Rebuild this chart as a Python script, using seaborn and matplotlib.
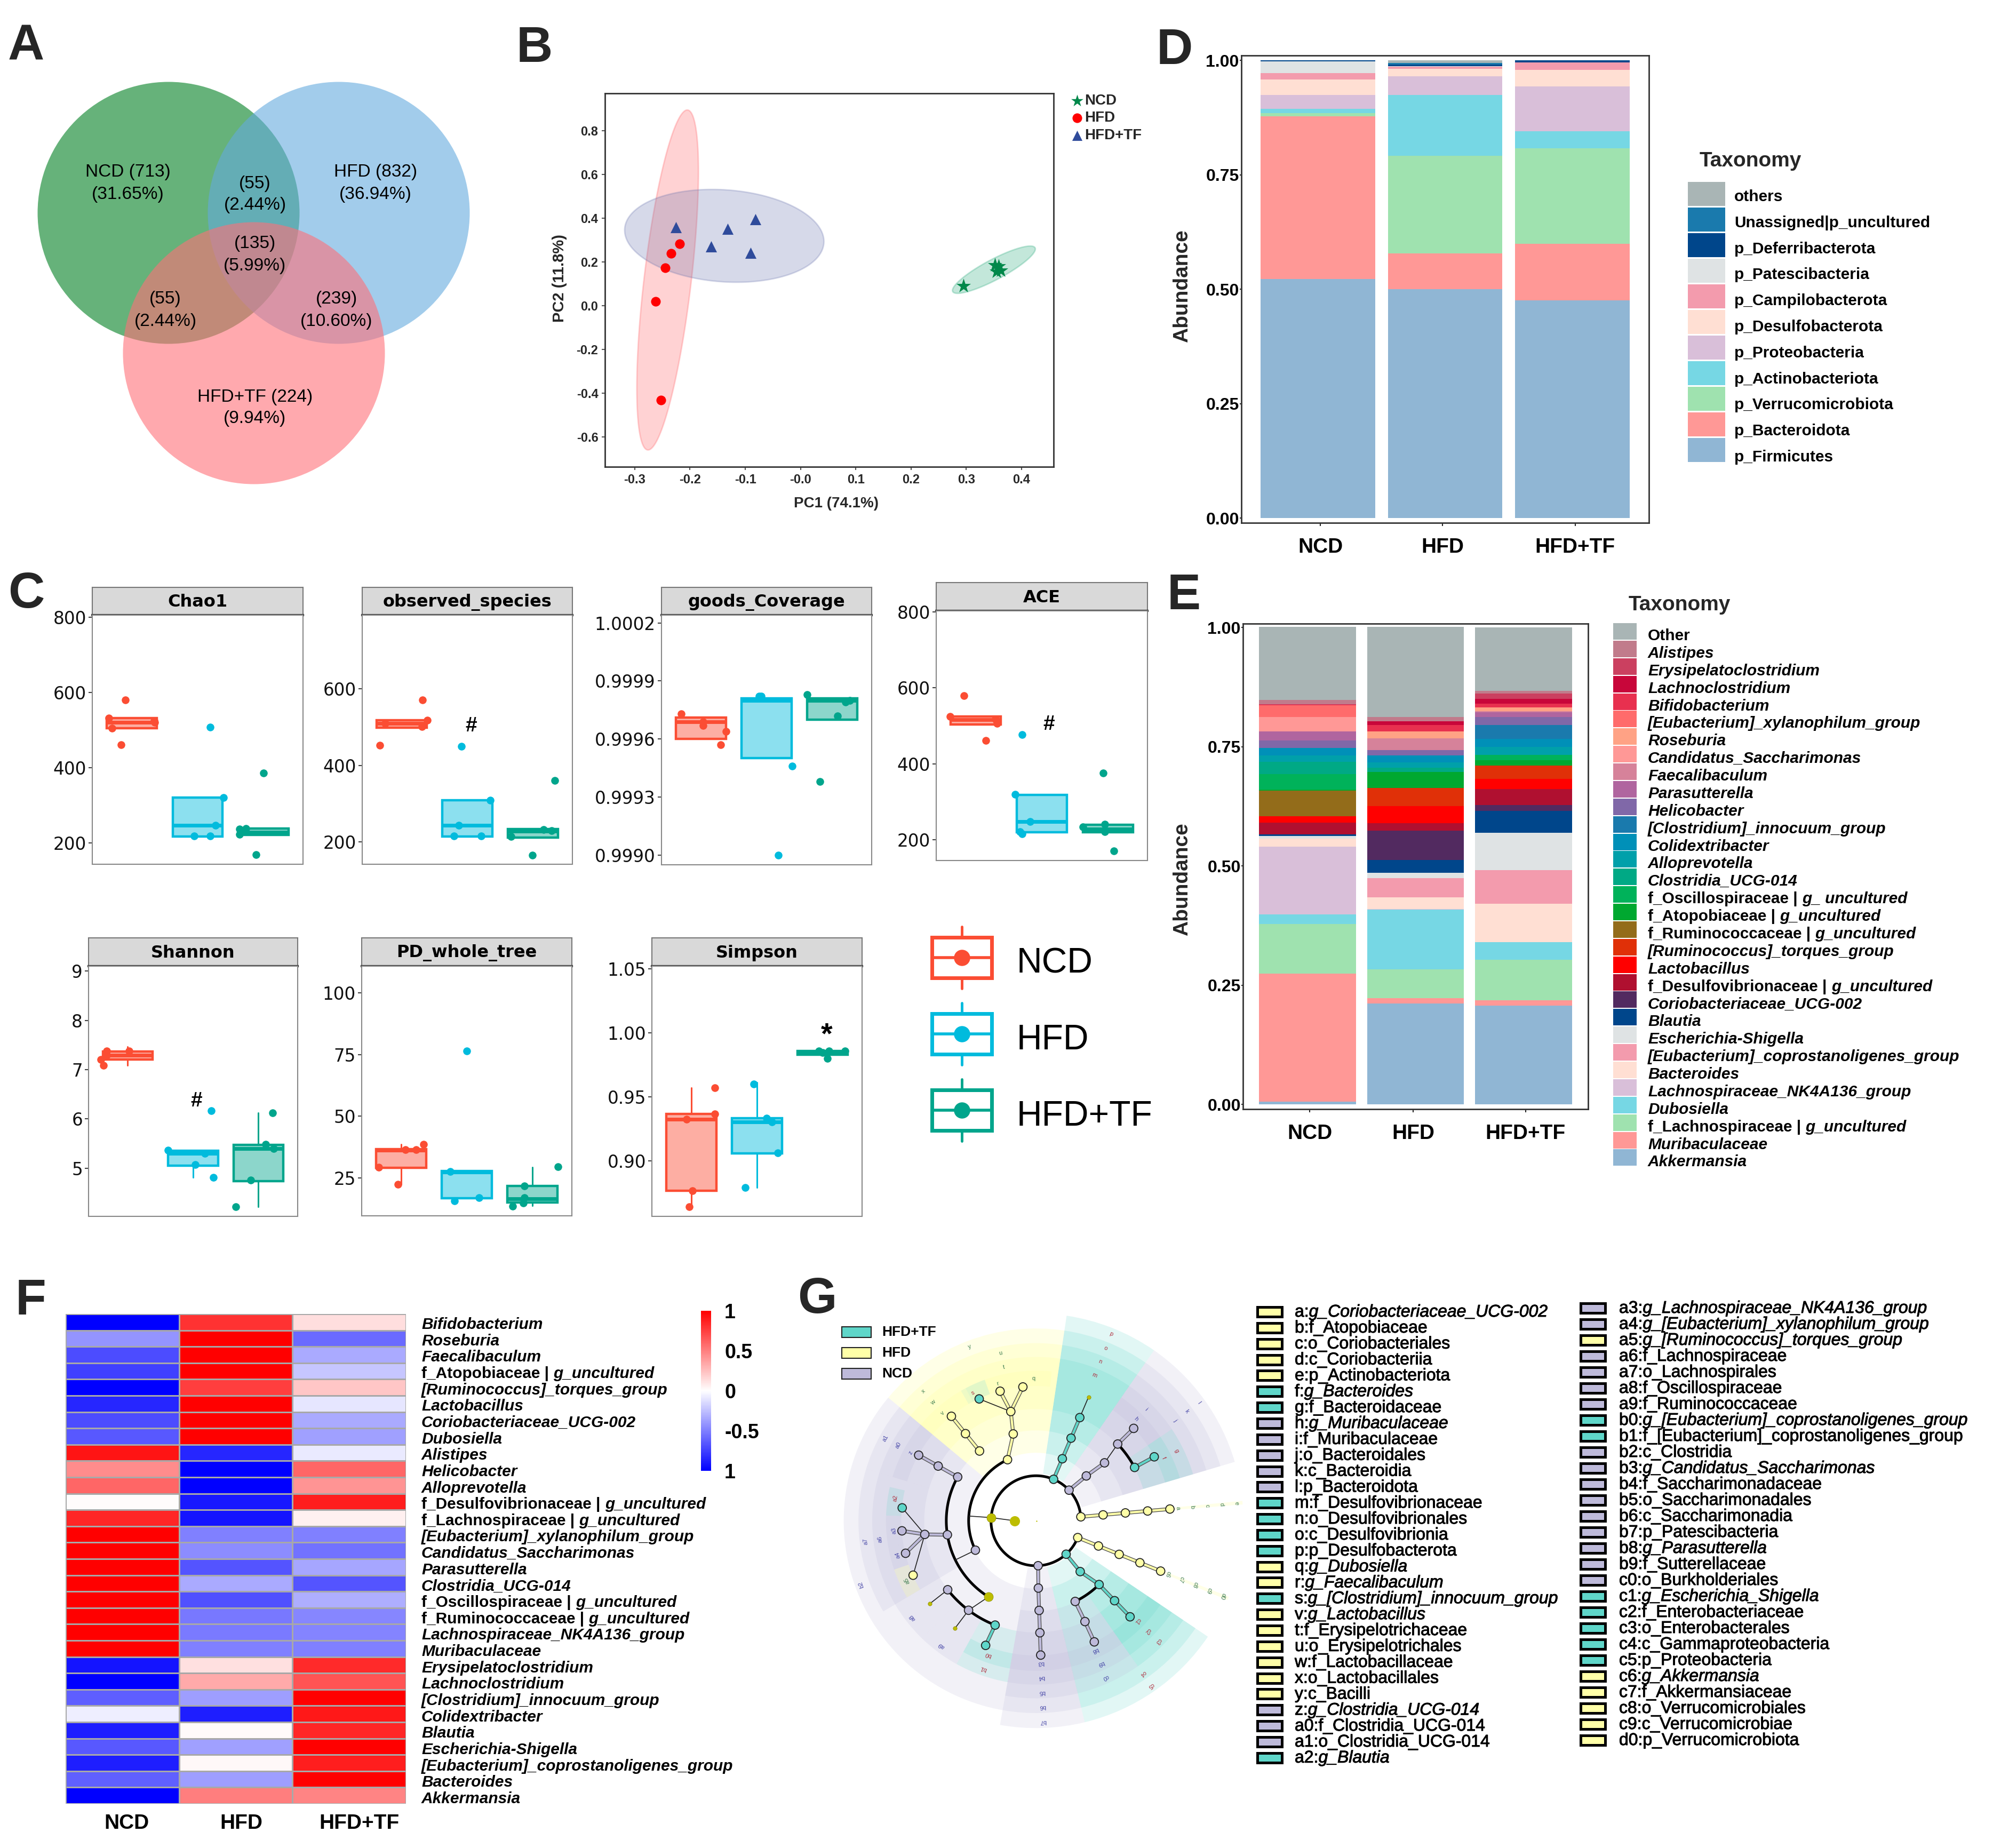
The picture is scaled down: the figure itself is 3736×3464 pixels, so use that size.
import numpy as np
import pandas as pd
import matplotlib
matplotlib.use('Agg')
import matplotlib.pyplot as plt
import matplotlib.patheffects as pe
from matplotlib.patches import Circle, Rectangle, Wedge
import seaborn as sns

sns.set_theme(style='white')
plt.rcParams['font.family'] = ['Liberation Sans', 'DejaVu Sans']

W, H = 3737, 3464
groups = ['NCD', 'HFD', 'HFD+TF']

# ---------- A venn
venn_texts = [('NCD (713)', '(31.65%)', 240, 323), ('HFD (832)', '(36.94%)', 704, 323),
              ('(55)', '(2.44%)', 478, 344), ('(135)', '(5.99%)', 478, 457),
              ('(55)', '(2.44%)', 310, 561), ('(239)', '(10.60%)', 631, 561),
              ('HFD+TF (224)', '(9.94%)', 478, 744)]
venn_circles = [(316, 399, '#008021'), (635, 399, '#64AADE'), (476, 662, '#FF7078')]

# ---------- B pcoa
pc1_ncd = [0.295, 0.352, 0.359, 0.355, 0.362]
pc2_ncd = [0.090, 0.187, 0.180, 0.157, 0.162]
pc1_hfd = [-0.219, -0.234, -0.245, -0.262, -0.253]
pc2_hfd = [0.283, 0.239, 0.174, 0.021, -0.432]
pc1_tf = [-0.226, -0.132, -0.082, -0.162, -0.090]
pc2_tf = [0.358, 0.353, 0.396, 0.272, 0.242]
# centre, major vector, minor vector
ell_ncd = [0.350, 0.165, 0.0717, 0.106, -0.022, 0.022]
ell_hfd = [-0.2405, 0.118, 0.0355, 0.778, 0.043, 0.0]
ell_tf = [-0.138, 0.320, 0.180, -0.013, -0.011, 0.212]

# ---------- C alpha diversity: q1, median, q3, whisker low, whisker high
chao1_box = [[505, 520, 531, 505, 531], [217, 247, 320, 217, 320], [221, 228, 238, 221, 238]]
chao1_y = [[579, 532, 505, 461, 525, 520], [507, 320, 247, 218, 218], [386, 236, 222, 238, 168]]
chao1_off = [[-.10, -.35, -.30, -.16, .34, .35], [.19, .39, .27, -.05, .19], [0, -.36, -.36, -.27, -.11]]
obs_box = [[499, 510, 518, 499, 518], [214, 244, 309, 214, 309], [212, 228, 234, 212, 234]]
obs_y = [[570, 518, 501, 453, 510], [450, 309, 244, 216, 216], [361, 233, 230, 214, 166]]
obs_off = [[.32, .39, .31, -.33, -.25], [-.09, .35, -.13, -.2, .21], [.33, .16, .28, -.33, -.01]]
goods_box = [[.99960, .99969, .99971, .99960, .99971], [.99950, .99980, .99981, .99950, .99981],
             [.99970, .99980, .99981, .99970, .99981]]
goods_y = [[.99973, .99967, .99964, .99957, .99969], [.99982, .99982, .99946, .99900],
           [.99983, .99980, .99979, .99972, .99938]]
goods_off = [[-.30, .03, .38, .30, .03], [-.11, -.08, .39, .18], [-.38, .27, .2, .08, -.19]]
ace_box = [[504, 516, 524, 504, 524], [219, 247, 318, 219, 318], [219, 228, 239, 219, 239]]
ace_y = [[579, 524, 517, 506, 461], [477, 319, 247, 221, 216], [375, 240, 234, 221, 170]]
ace_off = [[-.18, -.39, .3, .32, .15], [-.30, -.40, -.18, -.33, -.30], [-.07, -.05, -.38, -.05, .09]]
shannon_box = [[7.20, 7.29, 7.37, 7.09, 7.46], [5.05, 5.30, 5.35, 4.81, 5.35], [4.74, 5.40, 5.47, 4.21, 6.12]]
shannon_y = [[7.38, 7.29, 7.38, 7.20, 7.09], [6.16, 5.36, 5.30, 5.07, 4.81], [6.12, 5.48, 5.40, 4.76, 4.21]]
shannon_off = [[-.32, -.32, .02, -.41, -.37], [.28, -.38, .18, .03, .31], [.22, .11, .23, -.12, -.35]]
pd_box = [[29.2, 36.3, 36.6, 22.4, 38.6], [16.7, 27.3, 27.8, 16.7, 27.8], [15.1, 16.5, 21.8, 13.7, 29.4]]
pd_y = [[38.6, 36.5, 36.5, 29.4, 22.4], [76.5, 27.6, 17.0, 15.8], [29.6, 21.8, 16.9, 13.5, 14.9]]
pd_off = [[.34, .07, .23, -.34, -.05], [0, -.25, .19, -.19], [.39, -.12, -.12, -.3, -.14]]
simpson_box = [[.8769, .9327, .9367, .8643, .9571], [.9058, .9303, .9333, .8793, .9612],
               [.9830, .9847, .9860, .9830, .9860]]
simpson_y = [[.9571, .9367, .9327, .8769, .8643], [.9602, .9333, .9303, .9065, .8793],
             [.9860, .9857, .9857, .9800, .9847]]
simpson_off = [[.36, .36, -.07, .02, -.03], [-.05, .15, .23, .32, -.18], [.34, -.06, .1, .07, 0]]

# name, data, pixel box (left, strip top, panel top, right, bottom), ylim, yticks, labels, mark
alpha_panels = [
    ('Chao1', chao1_box, chao1_y, chao1_off, (173, 1101, 1153, 568, 1620), (143, 805),
     [200, 400, 600, 800], ['200', '400', '600', '800'], None),
    ('observed_species', obs_box, obs_y, obs_off, (679, 1101, 1153, 1073, 1620), (142, 792),
     [200, 400, 600], ['200', '400', '600'], ('#', 2.06, 503)),
    ('goods_Coverage', goods_box, goods_y, goods_off, (1240, 1101, 1153, 1634, 1621), (.99895, 1.00024),
     [.9990, .9993, .9996, .9999, 1.0002], ['0.9990', '0.9993', '0.9996', '0.9999', '1.0002'], None),
    ('ACE', ace_box, ace_y, ace_off, (1755, 1092, 1145, 2151, 1613), (145, 803),
     [200, 400, 600, 800], ['200', '400', '600', '800'], ('#', 2.11, 503)),
    ('Shannon', shannon_box, shannon_y, shannon_off, (166, 1758, 1811, 558, 2280), (4.02, 9.1),
     [5, 6, 7, 8, 9], ['5', '6', '7', '8', '9'], ('#', 2.05, 6.36)),
    ('PD_whole_tree', pd_box, pd_y, pd_off, (678, 1758, 1811, 1072, 2279), (9.65, 110.9),
     [25, 50, 75, 100], ['25', '50', '75', '100'], None),
    ('Simpson', simpson_box, simpson_y, simpson_off, (1222, 1758, 1811, 1616, 2280), (.8568, 1.052),
     [.90, .95, 1.00, 1.05], ['0.90', '0.95', '1.00', '1.05'], ('*', 3.06, .9976)),
]
alpha_colors = ['#FB4D33', '#00BBDD', '#00A58C']

# ---------- D phylum
phyla = ['p_Firmicutes', 'p_Bacteroidota', 'p_Verrucomicrobiota', 'p_Actinobacteriota', 'p_Proteobacteria',
         'p_Desulfobacterota', 'p_Campilobacterota', 'p_Patescibacteria', 'p_Deferribacterota',
         'Unassigned|p_uncultured', 'others']
phyla_colors = ['#90B6D4', '#FF9896', '#9FE2AF', '#76D7E4', '#D9BFD9', '#FFDFD3', '#F39BAD', '#DFE3E4',
                '#00468B', '#1A7AAD', '#A9B5B5']
phyla_ncd = [.523, .355, .007, .010, .030, .033, .015, .025, .002, 0, 0]
phyla_hfd = [.501, .078, .213, .133, .041, .016, .005, .001, .003, .004, .005]
phyla_tf = [.476, .124, .208, .037, .098, .037, .016, 0, .004, 0, 0]

# ---------- E genus
genera = ['Akkermansia', 'Muribaculaceae', 'f_Lachnospiraceae | g_uncultured', 'Dubosiella',
          'Lachnospiraceae_NK4A136_group', 'Bacteroides', '[Eubacterium]_coprostanoligenes_group',
          'Escherichia-Shigella', 'Blautia', 'Coriobacteriaceae_UCG-002', 'f_Desulfovibrionaceae | g_uncultured',
          'Lactobacillus', '[Ruminococcus]_torques_group', 'f_Ruminococcaceae | g_uncultured',
          'f_Atopobiaceae | g_uncultured', 'f_Oscillospiraceae | g_ uncultured', 'Clostridia_UCG-014',
          'Alloprevotella', 'Colidextribacter', '[Clostridium]_innocuum_group', 'Helicobacter', 'Parasutterella',
          'Faecalibaculum', 'Candidatus_Saccharimonas', 'Roseburia', '[Eubacterium]_xylanophilum_group',
          'Bifidobacterium', 'Lachnoclostridium', 'Erysipelatoclostridium', 'Alistipes', 'Other']
genera_colors = ['#90B6D4', '#FF9896', '#9FE2AF', '#76D7E4', '#D9BFD9', '#FFDFD3', '#F39BAD', '#DFE3E4', '#00468B',
                 '#522A60', '#B01030', '#FF0000', '#E03008', '#936C1A', '#00A830', '#00B25A', '#00A985', '#00A0AA',
                 '#0090B8', '#1A7AAD', '#8068A8', '#B0659F', '#D6829A', '#FF9896', '#FFA285', '#FF6B6B', '#E8304F',
                 '#C8063A', '#CB4060', '#C17B8B', '#A9B5B5']
genera_ncd = [.006, .268, .104, .020, .142, .017, 0, .006, .003, 0, .025, .013, 0, .054, .002, .033, .025, .014, .015,
              0, .016, .019, 0, .030, 0, .025, .001, 0, .001, .009, .153]
genera_hfd = [.212, .011, .060, .125, .002, .024, .040, .012, .026, .062, .016, .035, .038, 0, .034, 0, .009, .011,
              .015, 0, .011, 0, .024, 0, .015, 0, .014, .007, 0, .009, .189]
genera_tf = [.207, .011, .085, .037, 0, .081, .070, .078, .046, .013, .033, .022, .027, 0, .012, .011, 0, .017, .016,
             .030, .016, .010, .003, 0, .007, 0, .008, .010, .011, .006, .133]

# ---------- F heatmap
heat_rows = ['Bifidobacterium', 'Roseburia', 'Faecalibaculum', 'f_Atopobiaceae | g_uncultured',
             '[Ruminococcus]_torques_group', 'Lactobacillus', 'Coriobacteriaceae_UCG-002', 'Dubosiella', 'Alistipes',
             'Helicobacter', 'Alloprevotella', 'f_Desulfovibrionaceae | g_uncultured', 'f_Lachnospiraceae | g_uncultured',
             '[Eubacterium]_xylanophilum_group', 'Candidatus_Saccharimonas', 'Parasutterella', 'Clostridia_UCG-014',
             'f_Oscillospiraceae | g_uncultured', 'f_Ruminococcaceae | g_uncultured', 'Lachnospiraceae_NK4A136_group',
             'Muribaculaceae', 'Erysipelatoclostridium', 'Lachnoclostridium', '[Clostridium]_innocuum_group',
             'Colidextribacter', 'Blautia', 'Escherichia-Shigella', '[Eubacterium]_coprostanoligenes_group',
             'Bacteroides', 'Akkermansia']
heat_ncd = [-1, -.42, -.7, -.75, -1, -.85, -.7, -.65, .92, .45, .6, .01, .85, 1, 1, 1, 1, 1, 1, 1, 1,
            -.92, -1, -.63, -.07, -.88, -.65, -.88, -.62, -1]
heat_hfd = [.8, 1, 1, 1, .75, 1, 1, 1, -.85, -1, -1, -.9, -.92, -.5, -.45, -.67, -.33, -.68, -.53, -.52, -.5,
            .12, .33, -.38, -.88, .02, -.37, .03, -.38, .5]
heat_tf = [.13, -.58, -.33, -.22, .22, -.1, -.33, -.37, -.08, .6, .42, .88, .06, -.5, -.55, -.35, -.67, -.32, -.47,
           -.48, -.5, .83, .67, 1, .9, .85, 1, .88, 1, .48]

# ---------- G cladogram
clade_colors = {'N': '#BEBADA', 'H': '#FFFFA8', 'T': '#5FD6C9'}
clade_text = {'N': '#4848A8', 'H': '#3C7C50', 'T': '#B03040'}
clade_alpha = {'N': .2, 'H': .27, 'T': .18}
ring_in = {1: 155, 2: 222, 3: 295, 4: 365, 5: 440}
ring_out = {1: 677, 2: 628, 3: 580, 4: 535, 5: 490}
node_r = {1: 147, 2: 220, 3: 293, 4: 366, 5: 439}
label_r = {5: 465, 4: 512, 3: 560, 2: 608, 1: 657}
clade_wedges = [('T', 55.3, 81.5, 1), ('T', 55.3, 81.5, 2), ('T', 55.3, 81.5, 3), ('T', 55.3, 81.5, 4),
                ('N', 16.5, 55.3, 1), ('N', 16.5, 55.3, 2), ('N', 16.5, 55.3, 3), ('N', 34, 55.3, 4), ('N', 34, 55.3, 5),
                ('T', 16.5, 34, 4), ('T', 16.5, 34, 5),
                ('H', 81.5, 140.2, 2), ('H', 81.5, 118, 3), ('H', 81.5, 118, 4), ('H', 84, 98, 5), ('H', 98, 110, 5),
                ('T', 110, 120, 5), ('H', 118, 140.2, 3), ('H', 118, 140.2, 4), ('H', 120, 140.2, 5),
                ('N', 140.2, 260, 2), ('N', 140.2, 163, 3), ('N', 140.2, 163, 4), ('N', 140.2, 163, 5),
                ('N', 163, 210.7, 3), ('N', 163, 210.7, 4), ('T', 167, 178, 5), ('N', 178, 190, 5), ('N', 190, 199, 5),
                ('H', 199, 210.7, 5), ('N', 210.7, 226, 4), ('N', 226, 241, 4), ('T', 241, 260, 4), ('T', 241, 260, 5),
                ('N', 260, 283.6, 1), ('N', 260, 283.6, 2), ('N', 260, 283.6, 3), ('N', 260, 283.6, 4), ('N', 260, 283.6, 5),
                ('T', 283.6, 326, 1), ('T', 283.6, 326, 2), ('N', 283.6, 305, 3), ('N', 283.6, 305, 4), ('N', 283.6, 305, 5),
                ('T', 305, 326, 3), ('T', 305, 326, 4), ('T', 305, 326, 5),
                ('H', 4.5, 5.5, 1), ('H', 337.5, 338.5, 1)]
# group, chain of (angle, level)
clade_bands = [('H', [(5, 1), (5, 2), (5, 3), (5, 4), (5, 5)]),
               ('H', [(338, 1), (338, 2), (338, 3), (338, 4), (338, 5)]),
               ('T', [(67, 1), (67, 2), (67, 3), (67, 4)]),
               ('N', [(42.8, 1), (41.7, 2), (40.2, 3)]), ('N', [(43.2, 4), (43.4, 5)]), ('T', [(28.4, 4), (28.4, 5)]),
               ('H', [(115, 2), (104.7, 3), (103, 4)]), ('H', [(103, 4), (95.6, 5)]), ('H', [(103, 4), (105.5, 5)]),
               ('H', [(129, 3), (129, 4), (129, 5)]),
               ('N', [(150.8, 3), (150.8, 4), (150.8, 5)]), ('N', [(189, 3), (187, 4)]), ('N', [(187, 4), (184.3, 5)]),
               ('N', [(187, 4), (194, 5)]), ('T', [(248.6, 4), (248, 5)]),
               ('N', [(272.7, 1), (272, 2), (272, 3), (272, 4), (272, 5)]),
               ('T', [(312, 1), (311, 2), (314.7, 3), (314.5, 4), (314.4, 5)]),
               ('N', [(295.9, 3), (295.9, 4), (295.7, 5)])]
clade_thin = [[(67, 4), (67, 5)], [(40.2, 3), (43.2, 4)], [(103, 4), (115, 5)], [(187, 4), (174.5, 5)], [(187, 4), (203.9, 5)],
              [(218, 4), (218, 5)], [(233, 4), (233, 5)], [(238, 3), (233, 4)], [(205.9, 2), (205.9, 3)], [(176, 1), (176, 2)]]
clade_arcs = [(5, 338, 1), (115, 205.9, 2), (150.8, 238, 3), (218, 248.6, 4), (295.9, 314.7, 3), (28.4, 43.2, 4)]
clade_nodes = [('H', 5, 1), ('H', 5, 2), ('H', 5, 3), ('H', 5, 4), ('H', 5, 5),
               ('H', 338, 1), ('H', 338, 2), ('H', 338, 3), ('H', 338, 4), ('H', 338, 5),
               ('T', 67, 1), ('T', 67, 2), ('T', 67, 3), ('T', 67, 4),
               ('N', 42.8, 1), ('N', 41.7, 2), ('N', 40.2, 3), ('N', 43.2, 4), ('N', 43.4, 5), ('T', 28.4, 4), ('T', 28.4, 5),
               ('H', 115, 2), ('H', 104.7, 3), ('H', 103, 4), ('H', 95.6, 5), ('H', 105.5, 5), ('T', 115, 5),
               ('H', 129, 3), ('H', 129, 4), ('H', 129, 5),
               ('N', 150.8, 3), ('N', 150.8, 4), ('N', 150.8, 5), ('N', 189, 3), ('N', 187, 4),
               ('T', 174.5, 5), ('N', 184.3, 5), ('N', 194, 5), ('H', 203.9, 5), ('N', 205.9, 2),
               ('N', 218, 4), ('N', 233, 4), ('T', 248.6, 4), ('T', 248, 5),
               ('N', 272.7, 1), ('N', 272, 2), ('N', 272, 3), ('N', 272, 4), ('N', 272, 5),
               ('T', 312, 1), ('T', 311, 2), ('T', 314.7, 3), ('T', 314.5, 4), ('T', 314.4, 5),
               ('N', 295.9, 3), ('N', 295.9, 4), ('N', 295.7, 5)]
clade_olive = [(176, 1, 150), (238, 3, 150), (218, 5, 28), (233, 5, 28), (67, 5, 28)]
clade_labels = [('a', 5, 5, 'H'), ('b', 5, 4, 'H'), ('c', 5, 3, 'H'), ('d', 5, 2, 'H'), ('e', 5, 1, 'H'),
                ('f', 26.2, 5, 'T'), ('g', 26.4, 4, 'T'), ('h', 45.5, 5, 'N'), ('i', 45.4, 4, 'N'), ('j', 35.8, 3, 'N'),
                ('k', 36, 2, 'N'), ('l', 35.9, 1, 'N'), ('m', 68, 4, 'T'), ('n', 68, 3, 'T'), ('o', 68, 2, 'T'), ('p', 68, 1, 'T'),
                ('q', 91, 5, 'H'), ('r', 105.7, 5, 'H'), ('s', 116.3, 5, 'T'), ('v', 131, 5, 'H'), ('t', 101.9, 4, 'H'),
                ('u', 101.9, 3, 'H'), ('w', 131, 4, 'H'), ('x', 131, 3, 'H'), ('y', 110.8, 2, 'H'), ('z', 151.5, 5, 'N'),
                ('a0', 151.3, 4, 'N'), ('a1', 151.3, 3, 'N'), ('a2', 171, 5, 'T'), ('a3', 184, 5, 'N'), ('a4', 194, 5, 'N'),
                ('a5', 204.8, 5, 'H'), ('a6', 186.7, 4, 'N'), ('a7', 186.9, 3, 'N'), ('a8', 218, 4, 'N'), ('a9', 232.9, 4, 'N'),
                ('b0', 250.4, 5, 'T'), ('b1', 250.3, 4, 'T'), ('b2', 200, 2, 'N'), ('b3', 272, 5, 'N'), ('b4', 272, 4, 'N'),
                ('b5', 272, 3, 'N'), ('b6', 272, 2, 'N'), ('b7', 272, 1, 'N'), ('b8', 294.5, 5, 'N'), ('b9', 294.4, 4, 'N'),
                ('c0', 294, 3, 'N'), ('c1', 315.4, 5, 'T'), ('c2', 315.4, 4, 'T'), ('c3', 315.5, 3, 'T'), ('c4', 305, 2, 'T'),
                ('c5', 304.8, 1, 'T'), ('c6', 338, 5, 'H'), ('c7', 338, 4, 'H'), ('c8', 338, 3, 'H'), ('c9', 338, 2, 'H'),
                ('d0', 338, 1, 'H')]
key_col1 = ['a:g_Coriobacteriaceae_UCG-002', 'b:f_Atopobiaceae', 'c:o_Coriobacteriales', 'd:c_Coriobacteriia',
            'e:p_Actinobacteriota', 'f:g_Bacteroides', 'g:f_Bacteroidaceae', 'h:g_Muribaculaceae', 'i:f_Muribaculaceae',
            'j:o_Bacteroidales', 'k:c_Bacteroidia', 'l:p_Bacteroidota', 'm:f_Desulfovibrionaceae', 'n:o_Desulfovibrionales',
            'o:c_Desulfovibrionia', 'p:p_Desulfobacterota', 'q:g_Dubosiella', 'r:g_Faecalibaculum',
            's:g_[Clostridium]_innocuum_group', 'v:g_Lactobacillus', 't:f_Erysipelotrichaceae', 'u:o_Erysipelotrichales',
            'w:f_Lactobacillaceae', 'x:o_Lactobacillales', 'y:c_Bacilli', 'z:g_Clostridia_UCG-014', 'a0:f_Clostridia_UCG-014',
            'a1:o_Clostridia_UCG-014', 'a2:g_Blautia']
key_col1_groups = 'HHHHHTTNNNNNTTTTHHTHHHHHHNNNT'
key_col2 = ['a3:g_Lachnospiraceae_NK4A136_group', 'a4:g_[Eubacterium]_xylanophilum_group', 'a5:g_[Ruminococcus]_torques_group',
            'a6:f_Lachnospiraceae', 'a7:o_Lachnospirales', 'a8:f_Oscillospiraceae', 'a9:f_Ruminococcaceae',
            'b0:g_[Eubacterium]_coprostanoligenes_group', 'b1:f_[Eubacterium]_coprostanoligenes_group', 'b2:c_Clostridia',
            'b3:g_Candidatus_Saccharimonas', 'b4:f_Saccharimonadaceae', 'b5:o_Saccharimonadales', 'b6:c_Saccharimonadia',
            'b7:p_Patescibacteria', 'b8:g_Parasutterella', 'b9:f_Sutterellaceae', 'c0:o_Burkholderiales', 'c1:g_Escherichia_Shigella',
            'c2:f_Enterobacteriaceae', 'c3:o_Enterobacterales', 'c4:c_Gammaproteobacteria', 'c5:p_Proteobacteria',
            'c6:g_Akkermansia', 'c7:f_Akkermansiaceae', 'c8:o_Verrucomicrobiales', 'c9:c_Verrucomicrobiae', 'd0:p_Verrucomicrobiota']
key_col2_groups = 'NNHNNNNTTNNNNNNNNNTTTTTHHHHH'

fig = plt.figure(figsize=(W / 100, H / 100), dpi=100)


def px_axes(left, top, right, bottom, **kw):
    return fig.add_axes([left / W, 1 - bottom / H, (right - left) / W, (bottom - top) / H], **kw)


ov = px_axes(0, 0, W, H)
ov.set_xlim(0, W)
ov.set_ylim(H, 0)
ov.axis('off')
ov.set_zorder(20)
renderer = fig.canvas.get_renderer()
semi = [pe.withStroke(linewidth=.7, foreground='black')]


def mixed_text(x, y, parts, size, effects=None):
    # draw pieces one after another, each with its own style
    for s, style, weight in parts:
        t = ov.text(x, y, s, fontsize=size, style=style, weight=weight, va='center', ha='left', color='black',
                    path_effects=effects)
        x += t.get_window_extent(renderer).width


def taxon_parts(name):
    if name == 'Other':
        return [(name, 'normal', 'bold')]
    if ' | ' in name:
        a, b = name.split(' | ')
        return [(a + ' | ', 'normal', 'bold'), (b, 'italic', 'bold')]
    return [(name, 'italic', 'bold')]


def key_parts(name):
    if ':g_' in name:
        a, b = name.split(':g_')
        return [(a + ':', 'normal', 'normal'), ('g_' + b, 'italic', 'normal')]
    return [(name, 'normal', 'normal')]


# panel letters
for letter, x, y in [('A', 15, 88), ('B', 968, 92), ('C', 15, 1114), ('D', 2168, 95),
                     ('E', 2188, 1118), ('F', 29, 2439), ('G', 1495, 2437)]:
    ov.text(x, y, letter, fontsize=68, weight='bold', va='center', ha='left')

# A
for cx, cy, col in venn_circles:
    ov.add_patch(Circle((cx, cy), 245.5, fc=col, ec='none', alpha=.6))
for t1, t2, x, y in venn_texts:
    ov.text(x, y, t1, fontsize=24, ha='center', va='center', color='black')
    ov.text(x, y + 41, t2, fontsize=24, ha='center', va='center', color='black')

# B
ax = px_axes(1134, 175, 1975, 875)
t = np.linspace(0, 2 * np.pi, 200)
for e, col in [(ell_hfd, '#FF5A5F'), (ell_tf, '#6A74AE'), (ell_ncd, '#22A878')]:
    ex = e[0] + e[2] * np.cos(t) + e[4] * np.sin(t)
    ey = e[1] + e[3] * np.cos(t) + e[5] * np.sin(t)
    ax.fill(ex, ey, fc=col, ec=col, alpha=.27, lw=2)
sns.scatterplot(x=pc1_ncd, y=pc2_ncd, marker='*', color='#00884A', s=420, linewidth=0, ax=ax)
sns.scatterplot(x=pc1_hfd, y=pc2_hfd, marker='o', color='#FF0000', s=170, linewidth=0, ax=ax)
sns.scatterplot(x=pc1_tf, y=pc2_tf, marker='^', color='#2F4B9B', s=230, linewidth=0, ax=ax)
ax.set_xlim(-0.354, 0.458)
ax.set_ylim(-0.737, 0.972)
ax.set_xticks(np.arange(-3, 5) / 10)
ax.set_xticklabels(['-0.3', '-0.2', '-0.1', '-0.0', '0.1', '0.2', '0.3', '0.4'], fontsize=17, weight='bold')
ax.set_yticks(np.arange(-6, 9, 2) / 10)
ax.set_yticklabels(['-0.6', '-0.4', '-0.2', '0.0', '0.2', '0.4', '0.6', '0.8'], fontsize=17, weight='bold')
ax.tick_params(length=4, width=1.5, color='#555555', left=True, bottom=True, pad=5)
for s in ax.spines.values():
    s.set_color('#333333')
    s.set_linewidth(2)
ov.text(1568, 944, 'PC1 (74.1%)', fontsize=20, weight='bold', ha='center', va='center')
ov.text(1049, 521, 'PC2 (11.8%)', fontsize=21, weight='bold', ha='center', va='center', rotation=90)
for lab, yy, mk, col, ss in [('NCD', 189, '*', '#00884A', 300), ('HFD', 221, 'o', '#FF0000', 170), ('HFD+TF', 254, '^', '#2F4B9B', 190)]:
    ov.scatter([2019], [yy], marker=mk, c=col, s=ss, linewidths=0)
    ov.text(2033, yy, lab, fontsize=20, weight='bold', va='center')

# C
for name, boxes, ys, offs, (l, st, pt, r, b), ylim, yticks, ylabels, mark in alpha_panels:
    strip = px_axes(l, st, r, pt)
    strip.set_xticks([])
    strip.set_yticks([])
    strip.set_facecolor('#D9D9D9')
    for s in strip.spines.values():
        s.set_color('#777777')
        s.set_linewidth(1.5)
    strip.spines['bottom'].set_color('#333333')
    strip.spines['bottom'].set_linewidth(3)
    strip.text(.5, .47, name, transform=strip.transAxes, ha='center', va='center', fontsize=23, weight='bold',
               family='DejaVu Sans', color='black')
    ax = px_axes(l, pt, r, b)
    for i, col in enumerate(alpha_colors):
        q1, med, q3, lo, hi = boxes[i]
        bx = ax.bxp([dict(med=med, q1=q1, q3=q3, whislo=lo, whishi=hi, fliers=[])], positions=[i + 1], widths=.76,
                    patch_artist=True, showcaps=False, showfliers=False,
                    boxprops=dict(edgecolor=col, lw=3.2), medianprops=dict(color=col, lw=5),
                    whiskerprops=dict(color=col, lw=2.2), manage_ticks=False)
        bx['boxes'][0].set_facecolor(matplotlib.colors.to_rgba(col, .45))
        sns.scatterplot(x=np.array(offs[i]) + i + 1, y=ys[i], color=col, s=110, linewidth=0, ax=ax, zorder=5)
    ax.set_xlim(.4, 3.6)
    ax.set_ylim(*ylim)
    ax.set_xticks([])
    ax.set_yticks(yticks)
    ax.set_yticklabels(ylabels, fontsize=23.5, family='DejaVu Sans', color='#111111')
    ax.tick_params(axis='y', left=True, length=5, width=1.5, color='#444444', pad=3)
    for s in ax.spines.values():
        s.set_color('#888888')
        s.set_linewidth(1.5)
    if mark:
        ax.text(mark[1], mark[2], mark[0], fontsize=28 if mark[0] == '#' else 40, weight='bold', ha='center',
                va='center', color='black')

for yy, lab, col in zip([1795, 1938, 2081], groups, alpha_colors):
    ov.plot([1803, 1803], [yy - 58, yy + 58], color=col, lw=3.5)
    ov.add_patch(Rectangle((1747, yy - 38), 112, 76, fc='white', ec=col, lw=5, zorder=3))
    ov.plot([1747, 1859], [yy, yy], color=col, lw=4, zorder=4)
    ov.scatter([1803], [yy], c=col, s=480, linewidths=0, zorder=5)
    ov.text(1906, yy + 12, lab, fontsize=47.5, va='center', color='black')


def stacked(ax, columns, colors):
    bottoms = np.zeros(3)
    for row, col in enumerate(colors):
        vals = [c[row] for c in columns]
        sns.barplot(x=groups, y=vals, bottom=bottoms, color=col, width=.9, saturation=1, linewidth=0, ax=ax)
        bottoms = bottoms + np.array(vals)
    ax.set_xlim(-.6, 2.6)
    ax.set_yticks([0, .25, .5, .75, 1])
    ax.set_yticklabels(['0.00', '0.25', '0.50', '0.75', '1.00'], fontsize=23, weight='bold', color='black')
    ax.set_xticks([0.02, 0.98, 2.02])
    ax.set_xticklabels(groups, fontsize=28, weight='bold', color='black')
    ax.set_ylabel('')
    ax.tick_params(axis='x', bottom=True, length=4, width=1.5, pad=16)
    ax.tick_params(axis='y', left=True, length=2, width=1.5, pad=1)
    for s in ax.spines.values():
        s.set_color('#333333')
        s.set_linewidth(2)


# D
ax = px_axes(2327, 104, 3091, 980)
stacked(ax, [phyla_ncd, phyla_hfd, phyla_tf], phyla_colors)
ax.set_ylim(-.01, 1.011)
ov.text(2216, 536, 'Abundance', fontsize=28, weight='bold', rotation=90, ha='center', va='center')
ov.text(3186, 302, 'Taxonomy', fontsize=28, weight='bold', va='center')
for i, (lab, col) in enumerate(zip(phyla[::-1], phyla_colors[::-1])):
    ov.add_patch(Rectangle((3164, 341 + i * 48.0), 70, 44.5, fc=col, ec='none'))
    ov.text(3251, 369 + i * 48.8, lab, fontsize=21.5, weight='bold', va='center', color='black')

# E
ax = px_axes(2330, 1169, 2977, 2079)
stacked(ax, [genera_ncd, genera_hfd, genera_tf], genera_colors)
ax.set_ylim(-.01, 1.008)
ov.text(2216, 1648, 'Abundance', fontsize=28, weight='bold', rotation=90, ha='center', va='center')
ov.text(3053, 1134, 'Taxonomy', fontsize=28, weight='bold', va='center')
for i, (lab, col) in enumerate(zip(genera[::-1], genera_colors[::-1])):
    ov.add_patch(Rectangle((3024, 1168 + i * 32.88), 44, 31, fc=col, ec='none'))
    mixed_text(3089, 1192 + i * 32.88, taxon_parts(lab), 21.5)

# F
ax = px_axes(123, 2463, 761, 3381)
cax = px_axes(1314, 2457, 1333, 2757)
heat_df = pd.DataFrame({'NCD': heat_ncd, 'HFD': heat_hfd, 'HFD+TF': heat_tf}, index=heat_rows)
sns.heatmap(heat_df, cmap='bwr', vmin=-1, vmax=1, linewidths=1, linecolor='#A8A8A8', yticklabels=False,
            ax=ax, cbar_ax=cax)
ax.set_xticks([.54, 1.55, 2.59])
ax.set_xticklabels(groups, fontsize=28, weight='bold', rotation=0, color='black')
ax.tick_params(axis='x', length=0, pad=14)
cax.set_yticks([-1, -.5, 0, .5, 1])
cax.set_yticklabels(['1', '-0.5', '0', '0.5', '1'], fontsize=27, weight='bold', color='black')
cax.tick_params(length=0, pad=18, right=False)
for s in cax.spines.values():
    s.set_visible(False)
for i, lab in enumerate(heat_rows):
    mixed_text(790, 2483 + i * 30.65, taxon_parts(lab), 21.5)

# G
ax = px_axes(1480, 2400, 2380, 3300)
ax.set_xlim(-805, 763)
ax.set_ylim(-783, 785)
ax.axis('off')


def pol(angle, r):
    return r * np.cos(np.radians(angle)), r * np.sin(np.radians(angle))


def nod(angle, level):
    return pol(angle, node_r[level])


for g, a1, a2, lev in clade_wedges:
    ax.add_patch(Wedge((0, 0), ring_out[lev], a1, a2, width=ring_out[lev] - ring_in[lev],
                       fc=clade_colors[g], ec='none', alpha=clade_alpha[g]))
for a1, a2, lev in clade_arcs:
    aa = np.linspace(a1, a2, 120)
    ax.plot(*pol(aa, node_r[lev]), color='black', lw=3.6, zorder=3)
for chain in clade_thin:
    pts = np.array([nod(*p) for p in chain])
    ax.plot(pts[:, 0], pts[:, 1], color='#222222', lw=1.2, zorder=3)
for g, chain in clade_bands:
    pts = np.array([nod(*p) for p in chain])
    ax.plot(pts[:, 0], pts[:, 1], color='#555555', lw=5, zorder=3)
    ax.plot(pts[:, 0], pts[:, 1], color=clade_colors[g], lw=3, zorder=3)
node_df = pd.DataFrame([(*nod(a, lev), g) for g, a, lev in clade_nodes], columns=['x', 'y', 'g'])
sns.scatterplot(data=node_df, x='x', y='y', hue='g', palette=clade_colors, s=130, edgecolor='#222222', linewidth=1.3,
                legend=False, ax=ax, zorder=4)
olive_df = pd.DataFrame([(*nod(a, lev), s) for a, lev, s in clade_olive], columns=['x', 'y', 's'])
for _, row in olive_df.iterrows():
    ax.scatter(row.x, row.y, s=row.s, c='#BDBD00', linewidths=.5, edgecolors='#888800', zorder=4)
ax.plot([-70, nod(176, 1)[0]], [0, nod(176, 1)[1]], color='#222222', lw=1.2, zorder=3)
ax.scatter([-70], [0], s=190, c='#BDBD00', linewidths=0, zorder=4)
ax.scatter([2], [0], s=3, c='#BDBD00', linewidths=0, zorder=4)
for lab, a, lev, g in clade_labels:
    x, y = pol(a, label_r[lev])
    ax.text(x, y, lab, fontsize=8, color=clade_text[g], rotation=a - 90, ha='center', va='center',
            rotation_mode='anchor')
for i, (lab, g) in enumerate([('HFD+TF', 'T'), ('HFD', 'H'), ('NCD', 'N')]):
    ov.add_patch(Rectangle((1578, 2487 + i * 39), 55, 20, fc=clade_colors[g], ec='#222222', lw=1.5))
    ov.text(1653, 2497 + i * 39, lab, fontsize=19, weight='bold', va='center', color='black')

for labs, grp, kx, tx, y0, step in [(key_col1, key_col1_groups, 2357, 2427, 2459, 29.85),
                                    (key_col2, key_col2_groups, 2963, 3035, 2452, 30.0)]:
    for i, (lab, g) in enumerate(zip(labs, grp)):
        yy = y0 + i * step
        ov.add_patch(Rectangle((kx, yy - 9), 46, 18, fc=clade_colors[g], ec='black', lw=3.6))
        mixed_text(tx, yy + 1, key_parts(lab), 23, semi)

fig.savefig('out.png', dpi=100)
